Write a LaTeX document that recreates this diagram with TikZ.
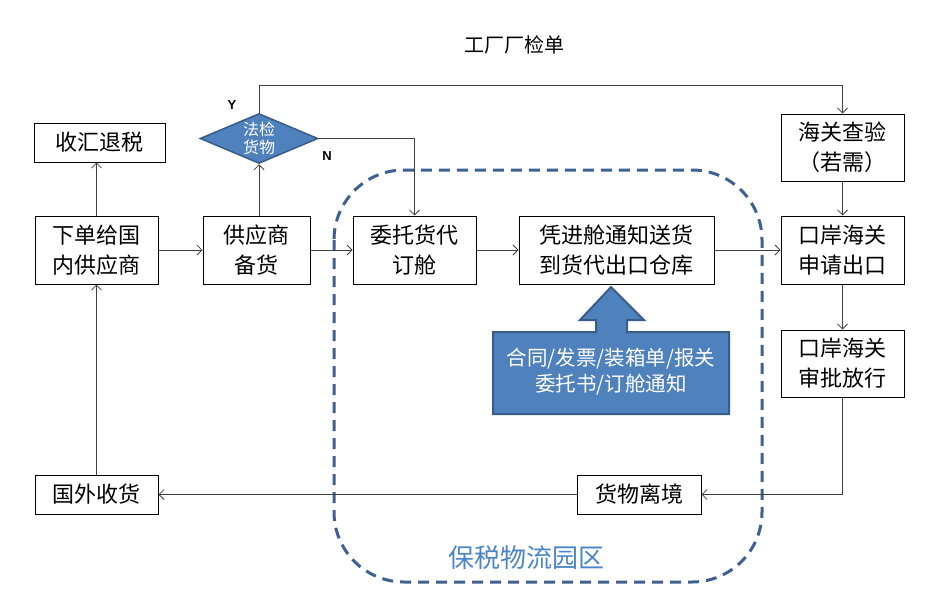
\documentclass[tikz,border=0pt]{standalone}
\usepackage{fontspec}
\setmainfont{Noto Sans CJK SC}
\newfontfamily\latinsans{Liberation Sans}
\usetikzlibrary{shapes.geometric,arrows.meta}
\definecolor{ofblue}{HTML}{4F81BD}
\definecolor{ofborder}{HTML}{385D8A}
\definecolor{dashblue}{HTML}{3E6191}
\definecolor{zonetext}{HTML}{4A86C8}
\begin{document}
\begin{tikzpicture}[x=1pt,y=-1pt,
  box/.style={draw=black, line width=1pt, fill=white, align=center,
    font=\fontsize{22}{30}\selectfont, inner sep=0pt},
  conn/.style={-{Straight Barb[length=5pt,width=10pt]}, line width=0.8pt, draw=black!75},
  ynlabel/.style={font=\latinsans\bfseries\fontsize{13}{15}\selectfont, inner sep=0pt}]
\useasboundingbox (0,0) rectangle (939,608);

% bonded logistics zone
\draw[dashblue, line width=3pt, dash pattern=on 11pt off 7pt, rounded corners=70pt]
  (334,170) rectangle (762,582);
\node[font=\fontsize{26}{30}\selectfont, text=zonetext] (zone) at (526,558) {保税物流园区};

% title
\node[font=\fontsize{20}{24}\selectfont] (title) at (514,45) {工厂厂检单};

% boxes
\node[box, minimum width=131pt, minimum height=39pt] (sh) at (99.5,142.5) {收汇退税};
\node[box, minimum width=123pt, minimum height=68pt] (xd) at (96.5,250) {下单给国\\内供应商};
\node[box, minimum width=107pt, minimum height=68pt] (gy) at (256.5,250) {供应商\\备货};
\node[box, minimum width=123pt, minimum height=68pt] (wt) at (414.5,250) {委托货代\\订舱};
\node[box, minimum width=195pt, minimum height=68pt] (pj) at (616.5,250) {凭进舱通知送货\\到货代出口仓库};
\node[box, minimum width=123pt, minimum height=67pt] (hg) at (842.5,147.5) {海关查验\\（若需）};
\node[box, minimum width=123pt, minimum height=68pt] (ka) at (842.5,250) {口岸海关\\申请出口};
\node[box, minimum width=123pt, minimum height=67pt] (sp) at (842.5,363.5) {口岸海关\\审批放行};
\node[box, minimum width=124pt, minimum height=39pt] (hw) at (639,494.5) {货物离境};
\node[box, minimum width=123pt, minimum height=39pt] (gw) at (96.5,494.5) {国外收货};

% decision
\node[diamond, aspect=2.4, draw=ofborder, line width=1.5pt, fill=ofblue, text=white,
  minimum width=118pt, minimum height=50pt, inner sep=0pt, align=center,
  font=\fontsize{16}{18}\selectfont] (dia) at (259,138.5) {法检\\货物};
\node[ynlabel] (ylab) at (232,105) {Y};
\node[ynlabel] (nlab) at (327,156) {N};

% callout
\draw[ofborder, fill=ofblue, line width=2pt, line join=miter]
  (493,332) -- (596,332) -- (596,320) -- (580,320) -- (611,287) -- (644,320)
  -- (627,320) -- (627,332) -- (729,332) -- (729,414) -- (493,414) -- cycle;
\node[text=white, align=center, font=\fontsize{20.5}{26}\selectfont] (docs) at (611,372)
  {合同/发票/装箱单/报关\\委托书/订舱通知};

% connectors
\draw[conn] (xd.north) -- (xd.north |- sh.south);
\draw[conn] (xd.east) -- (gy.west);
\draw[conn] (gy.north -| dia.south) -- (dia.south);
\draw[conn] (gy.east) -- (wt.west);
\draw[conn] (wt.east) -- (pj.west);
\draw[conn] (pj.east) -- (ka.west);
\draw[conn] (dia.north) -- ([yshift=27pt]dia.north) -| (hg.north);
\draw[conn] (dia.east) -| (wt.north);
\draw[conn] (hg.south) -- (ka.north);
\draw[conn] (ka.south) -- (sp.north);
\draw[conn] (sp.south) |- (hw.east);
\draw[conn] (hw.west) -- (gw.east);
\draw[conn] (gw.north) -- (xd.south);
\end{tikzpicture}
\end{document}
